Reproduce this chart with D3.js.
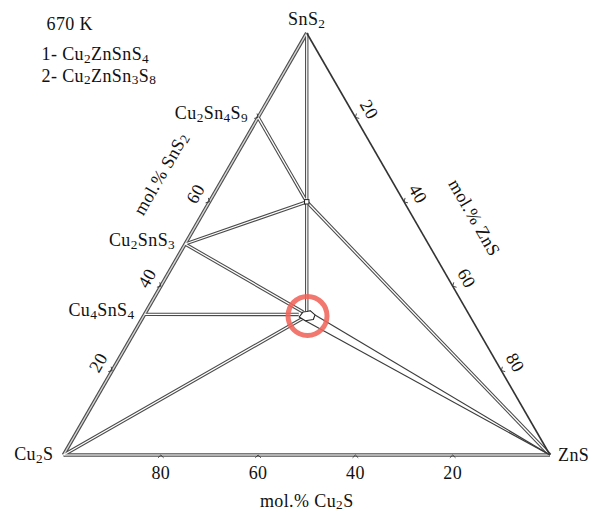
<!DOCTYPE html>
<html><head><meta charset="utf-8">
<script src="https://cdn.jsdelivr.net/npm/d3@7"></script>
<style>
html,body{margin:0;padding:0;background:#fff;}
svg{display:block;font-family:"Liberation Serif","Times New Roman",serif;}
</style></head><body>
<svg id="chart" width="596" height="515"></svg>
<script>
// Compositions are [Cu2S, ZnS, SnS2] in mol.%; "{n}" marks a subscript.
const componentNames = ["Cu{2}S", "ZnS", "SnS{2}"];
const componentComps = [[100, 0, 0], [0, 100, 0], [0, 0, 100]];
const temperatureLabel = "670 K";
const legendItems = ["1- Cu{2}ZnSnS{4}", "2- Cu{2}ZnSn{3}S{8}"];
const axisTitles = ["mol.% Cu{2}S", "mol.% ZnS", "mol.% SnS{2}"];
const tickValues = [20, 40, 60, 80];
const tickLabels = ["20", "40", "60", "80"];

// Binary compounds on the Cu2S–SnS2 side
const binaryNames = ["Cu{2}Sn{4}S{9}", "Cu{2}SnS{3}", "Cu{4}SnS{4}"];
const binaryComps = [[20, 0, 80], [50, 0, 50], [66.67, 0, 33.33]];

// Quaternary phases: 2 = Cu2ZnSn3S8 (point), 1 = Cu2ZnSnS4 (small homogeneity region)
const phase2Comp = [20, 20, 60];
const phase1Region = [
  [35.2, 32.1, 32.7], [33.8, 32.3, 33.9], [33.0, 33.0, 34.0], [32.2, 33.6, 34.2],
  [31.7, 35.1, 33.2], [32.6, 35.3, 32.1], [34.4, 33.8, 31.8]
];

// Tie lines drawn as hollow (double) strokes
const doubleTies = [
  [[0, 0, 100], phase2Comp],          // SnS2 – Cu2ZnSn3S8
  [[20, 0, 80], phase2Comp],          // Cu2Sn4S9 – Cu2ZnSn3S8
  [[50, 0, 50], phase2Comp],          // Cu2SnS3 – Cu2ZnSn3S8
  [phase2Comp, [0, 100, 0]],          // Cu2ZnSn3S8 – ZnS
  [phase2Comp, [33.0, 33.0, 34.0]],   // Cu2ZnSn3S8 – Cu2ZnSnS4
  [[50, 0, 50], [33.8, 32.3, 33.9]],  // Cu2SnS3 – Cu2ZnSnS4
  [[66.67, 0, 33.33], [35.0, 31.7, 33.3]], // Cu4SnS4 – Cu2ZnSnS4
  [[100, 0, 0], [34.8, 32.9, 32.3]]   // Cu2S – Cu2ZnSnS4
];
// Boundaries of the Cu2ZnSnS4 + ZnS field
const singleTies = [
  [[31.7, 35.1, 33.2], [0, 100, 0]],
  [[34.4, 33.8, 31.8], [0, 100, 0]]
];

const svg = d3.select("#chart");

// Ternary projection: horizontal from ZnS + SnS2/2, vertical from SnS2
const xS = d3.scaleLinear().domain([0, 100]).range([63.5, 550]);
const yS = d3.scaleLinear().domain([0, 100]).range([455, 33]);
const proj = c => [xS(c[1] + c[2] / 2), yS(c[2])];
const line = d3.line();

// Appends tspans for plain text and subscripts
function rich(sel, str, sub) {
  const parts = str.split(/(\{[^}]*\})/).filter(s => s.length);
  let down = false;
  parts.forEach(p => {
    if (p[0] === "{") {
      sel.append("tspan").attr("font-size", "74%").attr("dy", down ? 0 : sub).text(p.slice(1, -1));
      down = true;
    } else {
      sel.append("tspan").attr("dy", down ? -sub : 0).text(p);
      down = false;
    }
  });
  return sel;
}

const FS = 18;
const txt = (x, y, s, anchor, rot, sub) => {
  const t = svg.append("text")
    .attr("transform", `translate(${x},${y}) rotate(${rot || 0})`)
    .attr("text-anchor", anchor || "start")
    .attr("font-size", FS).attr("letter-spacing", 0.4).attr("fill", "#111");
  return rich(t, s, sub == null ? 2.8 : sub);
};

const cu2s = proj(componentComps[0]), zns = proj(componentComps[1]), sns2 = proj(componentComps[2]);

// Hollow strokes: all outer strokes first, then the inner ones, so junctions merge
const hollow = (pts, outer, inner, wOut, wIn) => {
  svg.append("path").attr("d", line(pts)).attr("fill", "none")
    .attr("stroke", outer).attr("stroke-width", wOut);
  return () => svg.append("path").attr("d", line(pts)).attr("fill", "none")
    .attr("stroke", inner).attr("stroke-width", wIn);
};

const inners = [];
inners.push(hollow([cu2s, sns2], "#4d4d4d", "#d6d6d6", 3.6, 1.4));
inners.push(hollow([cu2s, zns], "#4d4d4d", "#d6d6d6", 3.6, 1.4));
doubleTies.forEach(t => inners.push(hollow(t.map(proj), "#4a4a4a", "#fff", 3.4, 1.3)));
inners.forEach(f => f());

// Right edge: single line
svg.append("path").attr("d", line([sns2, zns])).attr("fill", "none")
  .attr("stroke", "#333").attr("stroke-width", 1.6);

singleTies.forEach(t => svg.append("path").attr("d", line(t.map(proj)))
  .attr("fill", "none").attr("stroke", "#3c3c3c").attr("stroke-width", 1.2));

// Cu2ZnSnS4 region
const regionPts = phase1Region.map(proj);
svg.append("path").attr("d", line(regionPts) + "Z").attr("fill", "#fff")
  .attr("stroke", "#222").attr("stroke-width", 1.1).attr("stroke-linejoin", "round");

// Cu2ZnSn3S8 point
const p2 = proj(phase2Comp);
svg.append("rect").attr("x", p2[0] - 2.2).attr("y", p2[1] - 2.2).attr("width", 4.4).attr("height", 4.4)
  .attr("fill", "#fff").attr("stroke", "#222").attr("stroke-width", 1);

// Highlight ring round Cu2ZnSnS4
const cc = d3.polygonCentroid(regionPts);
svg.append("circle").attr("cx", cc[0]).attr("cy", cc[1]).attr("r", 19.5)
  .attr("fill", "none").attr("stroke", "#f0645a").attr("stroke-width", 5).attr("opacity", 0.88);

// Axis ticks (chevrons), tick labels and axis titles
const s3 = Math.sqrt(3) / 2;
const edges = [
  { comp: v => [v, 100 - v, 0], n: [0, 1], rot: 0, off: 18, labels: [0, 1, 2, 3], title: 0, tAt: 50, tOff: 46 },
  { comp: v => [0, v, 100 - v], n: [s3, -0.5], rot: 60, off: 16, labels: [0, 1, 2, 3], title: 1, tAt: 50, tOff: 53 },
  { comp: v => [100 - v, 0, v], n: [-s3, -0.5], rot: -60, off: 16, labels: [0, 1, 2], title: 2, tAt: 60, tOff: 56 }
];
edges.forEach(e => {
  const t = [-e.n[1], e.n[0]];
  tickValues.forEach((v, i) => {
    const p = proj(e.comp(v));
    const a = 4, c = Math.SQRT1_2;
    const a1 = [p[0] + a * (e.n[0] * c + t[0] * c), p[1] + a * (e.n[1] * c + t[1] * c)];
    const a2 = [p[0] + a * (e.n[0] * c - t[0] * c), p[1] + a * (e.n[1] * c - t[1] * c)];
    svg.append("path").attr("d", line([a1, p, a2])).attr("fill", "none")
      .attr("stroke", "#333").attr("stroke-width", 0.9);
    if (e.labels.includes(i)) {
      txt(p[0] + e.n[0] * e.off, p[1] + e.n[1] * e.off, tickLabels[i], "middle", e.rot)
        .attr("dominant-baseline", "central");
    }
  });
  const q = proj(e.comp(e.tAt));
  txt(q[0] + e.n[0] * e.tOff, q[1] + e.n[1] * e.tOff, axisTitles[e.title], "middle", e.rot)
    .attr("dominant-baseline", "central");
});

// Vertex labels
txt(cu2s[0] - 10, cu2s[1] + 5, componentNames[0], "end");
txt(zns[0] + 8, zns[1] + 6, componentNames[1], "start");
txt(sns2[0], sns2[1] - 8, componentNames[2], "middle");

// Binary compound labels
binaryComps.forEach((c, i) => {
  const p = proj(c);
  txt(p[0] - 10, p[1] + 2, binaryNames[i], "end");
});

// Legend: temperature and the numbered phase list
txt(46.5, 30, temperatureLabel, "start");
legendItems.forEach((s, i) => txt(41.5, 60.2 + i * 21.6, s, "start", 0, 2.4));
</script>
</body></html>
